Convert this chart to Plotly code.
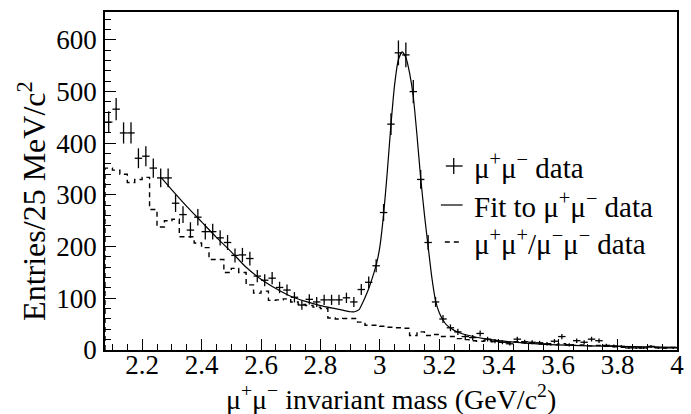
import numpy as np
import plotly.graph_objects as go

# ---------------- data ----------------
bin_lo = 2.075
bin_w = 0.025

mumu_counts = [441, 466, 420, 420, 371, 375, 352, 333, 333, 284,
               262, 232, 257, 229, 229, 217, 208, 183, 184, 177,
               143, 135, 139, 121, 116, 102, 87, 98, 93, 97,
               97, 97, 101, 93, 117, 131, 163, 266, 437, 575,
               571, 500, 330, 208, 93, 60, 43, 35, 26, 24,
               32, 21, 17, 15, 12, 21, 16, 15, 14, 12,
               17, 26, 10, 18, 15, 21, 18, 9, 8, 7,
               4, 4, 4, 7, 4, 4, 4]

likesign_counts = [352, 348, 340, 324, 330, 334, 272, 238, 250, 253,
                   219, 219, 207, 198, 175, 175, 150, 158, 150, 126,
                   110, 114, 96, 97, 99, 93, 88, 86, 83, 80,
                   62, 60, 61, 61, 54, 48, 48, 46, 44, 43,
                   42, 28, 35, 28, 30, 26, 26, 22, 20, 18,
                   17, 18, 16, 15, 14, 16, 14, 13, 12, 12,
                   10, 12, 10, 9, 10, 8, 9, 7, 6, 5,
                   6, 5, 4, 6, 5, 4, 5]

fit_x = [2.265, 2.30, 2.35, 2.40, 2.45, 2.50, 2.55, 2.60, 2.65, 2.70,
         2.75, 2.80, 2.85, 2.875, 2.90, 2.915, 2.93, 2.945, 2.96, 2.975,
         2.99, 3.0, 3.0125, 3.025, 3.0375, 3.05, 3.0625, 3.075, 3.0875, 3.10,
         3.1125, 3.125, 3.1375, 3.15, 3.1625, 3.175, 3.1875, 3.20, 3.2125, 3.225,
         3.25, 3.275, 3.30, 3.35, 3.40, 3.50, 3.60, 3.70, 3.80, 3.90, 4.0]
fit_y = [333, 310, 278, 248, 218, 190, 160, 137, 119, 104,
         94, 86, 80, 77, 74, 74, 78, 95, 115, 140,
         170, 200, 262, 345, 437, 515, 562, 577, 566, 536,
         490, 415, 332, 262, 200, 140, 95, 72, 58, 48,
         38, 32, 28, 22, 18, 13, 10, 8, 7, 6, 5]

x_tick_vals = [2.2, 2.4, 2.6, 2.8, 3.0, 3.2, 3.4, 3.6, 3.8, 4.0]
x_tick_text = ["2.2", "2.4", "2.6", "2.8", "3", "3.2", "3.4", "3.6", "3.8", "4"]
y_tick_vals = [0, 100, 200, 300, 400, 500, 600]

legend_labels = ["\u03bc<sup>+</sup>\u03bc<sup>\u2212</sup> data",
                 "Fit to \u03bc<sup>+</sup>\u03bc<sup>\u2212</sup> data",
                 "\u03bc<sup>+</sup>\u03bc<sup>+</sup>/\u03bc<sup>\u2212</sup>\u03bc<sup>\u2212</sup> data"]

# ---------------- figure ----------------
n = len(mumu_counts)
centers = bin_lo + bin_w * (np.arange(n) + 0.5)
edges = bin_lo + bin_w * np.arange(n + 1)
ls = np.array(likesign_counts, dtype=float)
step_y = np.append(ls, ls[-1])

FONT = "Liberation Serif"
fig = go.Figure()

# like-sign dashed histogram
fig.add_trace(go.Scatter(
    x=np.concatenate([[edges[0]], edges]),
    y=np.concatenate([[0], step_y]),
    mode="lines", line=dict(color="black", width=1.4, dash="5px,4px", shape="hv"),
    hoverinfo="skip", showlegend=False))

# fit curve
fig.add_trace(go.Scatter(
    x=fit_x, y=fit_y, mode="lines",
    line=dict(color="black", width=1.2, shape="spline", smoothing=0.6),
    showlegend=False))

# mu+mu- data with errors
mm = np.array(mumu_counts, dtype=float)
fig.add_trace(go.Scatter(
    x=centers, y=mm, mode="markers",
    marker=dict(size=1, color="black"),
    error_y=dict(type="data", array=np.sqrt(mm), color="black", thickness=1.3, width=0),
    error_x=dict(type="constant", value=bin_w / 2, color="black", thickness=1.3, width=0),
    showlegend=False))

# plot area geometry (px)
L, R, T, B = 105, 7, 12, 64
W, H = 691, 414
pw, ph = W - L - R, H - T - B

def px2paper(x, y):
    return (x - L) / pw, (T + ph - y) / ph

shapes = []
annotations = []
rows_y = [166, 205, 242]
# legend row 1: cross
cx, cy = px2paper(458, rows_y[0])
x1, _ = px2paper(450, 0); x2, _ = px2paper(467, 0)
_, y1 = px2paper(0, rows_y[0] - 8); _, y2 = px2paper(0, rows_y[0] + 8)
shapes.append(dict(type="line", xref="paper", yref="paper", x0=x1, x1=x2, y0=cy, y1=cy,
                   line=dict(color="black", width=1.3)))
shapes.append(dict(type="line", xref="paper", yref="paper", x0=cx, x1=cx, y0=y1, y1=y2,
                   line=dict(color="black", width=1.3)))
# row 2: solid line
a, b = px2paper(445, rows_y[1]); c, _ = px2paper(467, rows_y[1])
shapes.append(dict(type="line", xref="paper", yref="paper", x0=a, x1=c, y0=b, y1=b,
                   line=dict(color="black", width=1.2)))
# row 3: dashes
a, b = px2paper(449, rows_y[2]); c, _ = px2paper(466, rows_y[2])
shapes.append(dict(type="line", xref="paper", yref="paper", x0=a, x1=c, y0=b, y1=b,
                   line=dict(color="black", width=1.3, dash="5px,4px")))
for lab, ry in zip(legend_labels, rows_y):
    ax, ay = px2paper(476, ry)
    annotations.append(dict(text=lab, xref="paper", yref="paper", x=ax, y=ay,
                            xanchor="left", yanchor="middle", showarrow=False,
                            font=dict(family=FONT, size=29, color="black")))

# axis titles
tx, ty = px2paper(394, 397)
annotations.append(dict(text="\u03bc<sup>+</sup>\u03bc<sup>\u2212</sup> invariant mass (GeV/c<sup>2</sup>)",
                        xref="paper", yref="paper", x=tx, y=ty, xanchor="center", yanchor="middle",
                        showarrow=False, font=dict(family=FONT, size=28, color="black")))
tx, ty = px2paper(31, 201)
annotations.append(dict(text="Entries/25 MeV/c<sup>2</sup>", textangle=-90,
                        xref="paper", yref="paper", x=tx, y=ty, xanchor="center", yanchor="middle",
                        showarrow=False, font=dict(family=FONT, size=32, color="black")))

fig.update_layout(
    width=W, height=H, margin=dict(l=L, r=R, t=T, b=B),
    paper_bgcolor="white", plot_bgcolor="white",
    font=dict(family=FONT, size=27, color="black"),
    shapes=shapes, annotations=annotations, showlegend=False,
)
fig.update_xaxes(range=[bin_lo, 4.0], showgrid=False, zeroline=False,
                 showline=True, mirror=True, linecolor="black", linewidth=1.6,
                 ticks="inside", ticklen=11, tickwidth=1.2, tickcolor="black",
                 tickvals=x_tick_vals, ticktext=x_tick_text, ticklabelstandoff=-10,
                 minor=dict(ticks="inside", ticklen=6, dtick=0.05, tick0=2.0,
                            tickcolor="black", tickwidth=1.1, showgrid=False))
fig.update_yaxes(range=[0, 654], showgrid=False, zeroline=False,
                 showline=True, mirror=True, linecolor="black", linewidth=1.6,
                 ticks="inside", ticklen=11, tickwidth=1.2, tickcolor="black",
                 tickvals=y_tick_vals, ticklabelstandoff=1,
                 minor=dict(ticks="inside", ticklen=6, dtick=20, tick0=0,
                            tickcolor="black", tickwidth=1.1, showgrid=False))

fig.write_html("out.html", config={"displayModeBar": False},
               post_script="document.body.style.margin='0';document.body.style.overflow='hidden';")
